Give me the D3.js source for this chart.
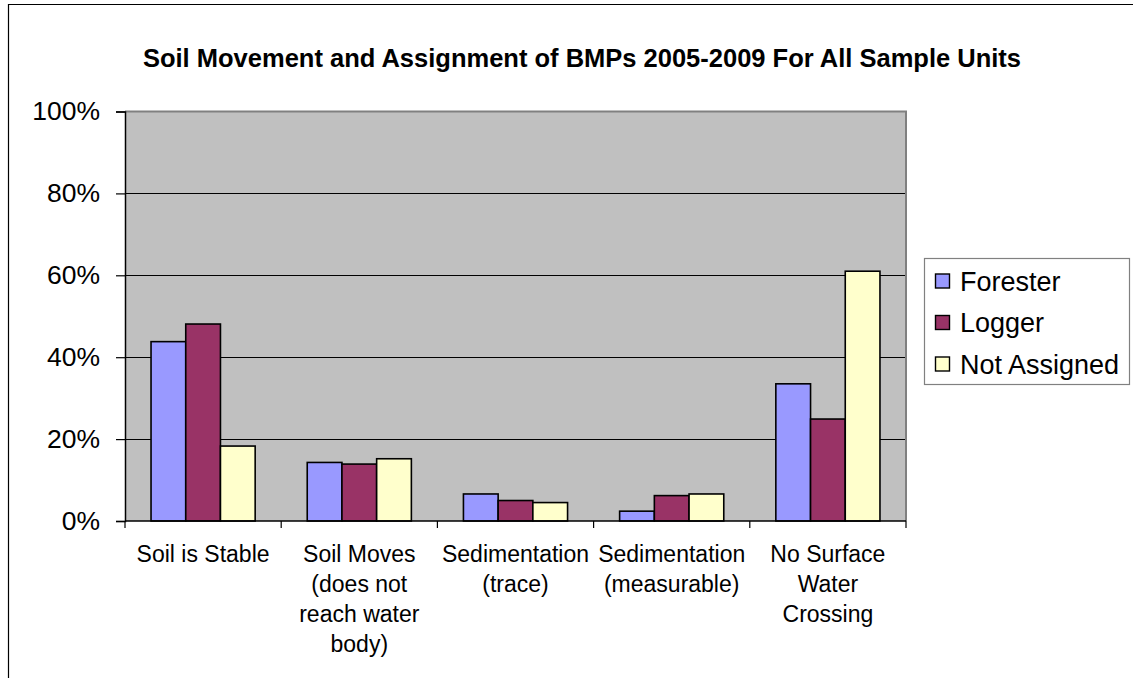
<!DOCTYPE html>
<html>
<head>
<meta charset="utf-8">
<script src="https://cdn.jsdelivr.net/npm/d3@7"></script>
<style>
  html, body { margin: 0; padding: 0; background: #ffffff; }
  svg { display: block; font-family: "Liberation Sans", Arial, sans-serif; }
</style>
</head>
<body>
<svg id="chart" width="1133" height="678"></svg>
<script>
// Category names (line breaks mark where the axis labels wrap)
const categories = [
  "Soil is Stable",
  "Soil Moves\n(does not\nreach water\nbody)",
  "Sedimentation\n(trace)",
  "Sedimentation\n(measurable)",
  "No Surface\nWater\nCrossing"
];
const seriesNames = ["Forester", "Logger", "Not Assigned"];
// Share of sample units per category, one array per series
const forester    = [0.438, 0.143, 0.066, 0.024, 0.335];
const logger      = [0.481, 0.139, 0.050, 0.062, 0.249];
const notAssigned = [0.183, 0.152, 0.045, 0.066, 0.610];
const yTicks = [0, 0.2, 0.4, 0.6, 0.8, 1.0];
const colors = ["#9999FF", "#993366", "#FFFFCC"];

const seriesValues = [forester, logger, notAssigned];
const title = "Soil Movement and Assignment of BMPs 2005-2009 For All Sample Units";

const svg = d3.select("#chart");
const plot = { left: 125, right: 906, top: 111.5, bottom: 521 };

// Outer chart frame (only the top and left edges fall inside the view)
svg.append("path")
  .attr("d", "M8.5,678 L8.5,4.5 L1133,4.5")
  .attr("fill", "none").attr("stroke", "#000").attr("stroke-width", 1.2);

// Title
svg.append("text")
  .attr("x", 582).attr("y", 67)
  .attr("text-anchor", "middle")
  .attr("font-weight", "bold")
  .attr("font-size", 25.5)
  .attr("fill", "#000")
  .text(title);

const x0 = d3.scaleBand().domain(categories).range([plot.left, plot.right]).paddingInner(0).paddingOuter(0);
const x1 = d3.scaleBand().domain(seriesNames).range([0, x0.bandwidth()]).paddingInner(0).paddingOuter(0.75);
const y = d3.scaleLinear().domain([0, 1]).range([plot.bottom, plot.top]);

// Plot background
svg.append("rect")
  .attr("x", plot.left).attr("y", plot.top)
  .attr("width", plot.right - plot.left).attr("height", plot.bottom - plot.top)
  .attr("fill", "#C0C0C0");

// Horizontal gridlines
svg.append("g").selectAll("line")
  .data(yTicks.filter(t => t > 0 && t < 1))
  .join("line")
  .attr("x1", plot.left).attr("x2", plot.right)
  .attr("y1", d => Math.round(y(d)) + 0.5).attr("y2", d => Math.round(y(d)) + 0.5)
  .attr("stroke", "#000").attr("stroke-width", 1);

// Plot border on top and right
svg.append("path")
  .attr("d", `M${plot.left},${plot.top} L${plot.right},${plot.top} L${plot.right},${plot.bottom}`)
  .attr("fill", "none").attr("stroke", "#808080").attr("stroke-width", 2);

// Bars
const rows = categories.map((c, i) => ({
  category: c,
  values: seriesNames.map((s, j) => ({ series: s, value: seriesValues[j][i], color: colors[j] }))
}));

svg.append("g").selectAll("g")
  .data(rows)
  .join("g")
  .attr("transform", d => `translate(${x0(d.category)},0)`)
  .selectAll("rect")
  .data(d => d.values)
  .join("rect")
  .attr("x", d => x1(d.series))
  .attr("y", d => y(d.value))
  .attr("width", x1.bandwidth())
  .attr("height", d => y(0) - y(d.value))
  .attr("fill", d => d.color)
  .attr("stroke", "#000")
  .attr("stroke-width", 1.6);

// Y axis
const yAxis = d3.axisLeft(y)
  .tickValues(yTicks)
  .tickFormat(d3.format(".0%"))
  .tickSize(9)
  .tickPadding(16);
const yg = svg.append("g").attr("transform", `translate(${plot.left},0)`).call(yAxis);
yg.select(".domain").attr("stroke", "#000").attr("stroke-width", 1.5);
yg.selectAll(".tick line").attr("stroke", "#000").attr("stroke-width", 1.2);
yg.selectAll(".tick text")
  .attr("font-size", 26.5)
  .attr("font-family", "Liberation Sans, Arial, sans-serif")
  .attr("fill", "#000");

// X axis: tick marks at category boundaries
const xg = svg.append("g");
xg.append("line")
  .attr("x1", plot.left).attr("x2", plot.right)
  .attr("y1", plot.bottom).attr("y2", plot.bottom)
  .attr("stroke", "#000").attr("stroke-width", 1.5);
const boundaries = categories.map(c => x0(c)).concat([x0(categories[categories.length - 1]) + x0.bandwidth()]);
xg.selectAll("line.tick")
  .data(boundaries)
  .join("line")
  .attr("class", "tick")
  .attr("x1", d => d).attr("x2", d => d)
  .attr("y1", plot.bottom).attr("y2", plot.bottom + 7)
  .attr("stroke", "#000").attr("stroke-width", 1.2);

// Category labels, wrapped onto several lines
const labels = xg.selectAll("text.cat")
  .data(categories)
  .join("text")
  .attr("class", "cat")
  .attr("x", d => x0(d) + x0.bandwidth() / 2)
  .attr("y", 562)
  .attr("text-anchor", "middle")
  .attr("font-size", 23)
  .attr("fill", "#000");
labels.selectAll("tspan")
  .data(d => d.split("\n"))
  .join("tspan")
  .attr("x", function () { return this.parentNode.getAttribute("x"); })
  .attr("dy", (d, i) => i === 0 ? 0 : 30)
  .text(d => d);

// Legend
const legend = svg.append("g");
legend.append("rect")
  .attr("x", 924.5).attr("y", 258.5)
  .attr("width", 205).attr("height", 126)
  .attr("fill", "#fff").attr("stroke", "#808080").attr("stroke-width", 1.2);
const legendRows = legend.selectAll("g")
  .data(seriesNames)
  .join("g")
  .attr("transform", (d, i) => `translate(0,${281 + i * 41.5})`);
legendRows.append("rect")
  .attr("x", 935.5).attr("y", -7)
  .attr("width", 14).attr("height", 14)
  .attr("fill", (d, i) => colors[i])
  .attr("stroke", "#000").attr("stroke-width", 1.4);
legendRows.append("text")
  .attr("x", 960).attr("y", 9.5)
  .attr("font-size", 27)
  .attr("fill", "#000")
  .text(d => d);
</script>
</body>
</html>
